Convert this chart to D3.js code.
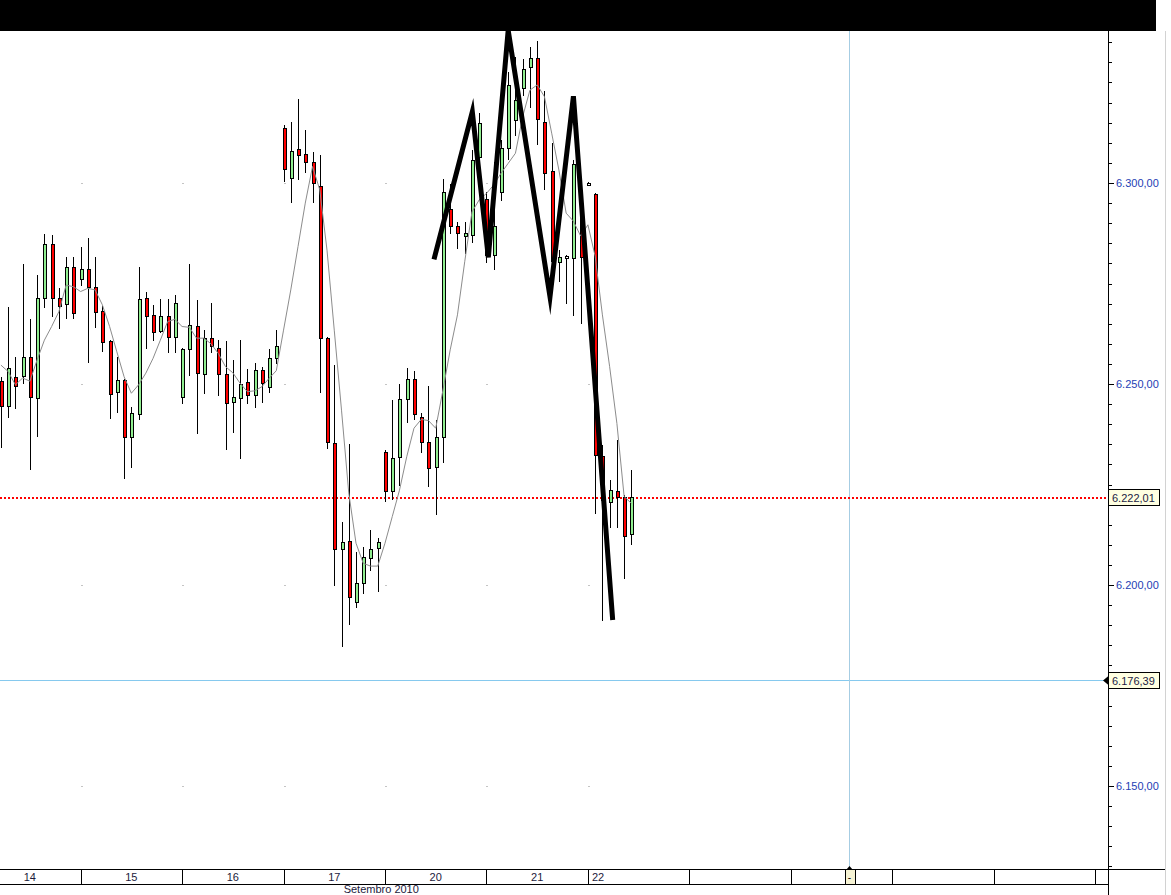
<!DOCTYPE html>
<html><head><meta charset="utf-8">
<script src="https://cdn.jsdelivr.net/npm/d3@7"></script>
<style>html,body{margin:0;padding:0;background:#fff;overflow:hidden}svg{display:block}</style>
</head><body>
<script>
// ---- DATA (30-minute candles, 14 per session) ----
const opens = [6250.7,6244.6,6251.7,6252.0,6256.6,6246.4,6271.3,6284.8,6271.3,6269.8,6279.0,6276.0,6278.5,6274.2,6268.2,6260.7,6247.9,6251.0,6236.9,6242.5,6271.3,6267.2,6263.3,6266.9,6261.8,6246.7,6258.7,6264.4,6252.4,6261.4,6258.9,6252.4,6245.5,6246.4,6250.4,6247.2,6253.5,6249.2,6256.4,6313.6,6301.2,6308.4,6307.1,6305.2,6299.3,6261.4,6235.3,6208.9,6211.0,6195.8,6200.4,6206.8,6209.1,6233.2,6223.5,6231.8,6246.2,6251.2,6241.7,6235.5,6229.3,6236.7,6293.5,6289.4,6286.9,6287.1,6306.5,6296.0,6282.1,6297.8,6308.8,6315.7,6323.7,6328.8,6331.0,6315.1,6303.0,6280.3,6281.8,6281.3,6291.8,6299.6,6297.3,6232.1,6220.7,6223.4,6222.0,6212.6];
const highs = [6251.7,6269.1,6256.8,6279.9,6266.2,6277.1,6287.2,6287.1,6273.8,6281.5,6281.5,6284.0,6286.2,6281.5,6269.4,6261.0,6256.8,6251.3,6244.4,6279.0,6273.0,6269.7,6271.1,6271.1,6272.1,6259.0,6279.9,6270.9,6263.4,6270.1,6260.9,6260.7,6256.0,6260.9,6253.7,6255.2,6254.3,6258.6,6263.4,6314.4,6315.1,6320.8,6313.2,6307.8,6307.0,6261.8,6254.7,6215.6,6235.0,6208.3,6209.4,6213.7,6211.6,6233.5,6246.0,6250.0,6253.9,6253.3,6242.7,6249.5,6241.0,6300.9,6299.8,6290.4,6290.4,6308.2,6317.3,6297.7,6305.3,6310.7,6327.6,6331.4,6330.8,6333.9,6335.3,6322.9,6309.9,6283.3,6282.0,6305.7,6293.3,6300.3,6297.5,6234.8,6226.1,6236.1,6222.3,6228.6];
const lows = [6234.3,6241.9,6244.0,6250.2,6228.8,6237.1,6269.2,6266.9,6264.0,6266.3,6266.3,6274.6,6255.5,6264.3,6258.3,6241.5,6243.1,6226.5,6229.3,6241.2,6258.9,6260.9,6263.0,6258.0,6258.0,6245.3,6252.2,6237.8,6247.7,6257.9,6247.3,6233.8,6238.1,6231.5,6245.2,6244.2,6245.6,6248.1,6255.2,6300.6,6295.3,6300.9,6302.8,6295.3,6248.1,6234.2,6200.0,6184.8,6190.2,6194.5,6198.1,6203.7,6198.6,6221.0,6221.3,6224.9,6240.6,6241.2,6233.2,6224.6,6217.6,6230.7,6287.5,6283.9,6282.7,6285.4,6303.2,6280.4,6278.5,6295.8,6305.9,6311.9,6321.9,6318.8,6309.6,6298.4,6274.6,6275.6,6270.2,6267.2,6265.1,6299.4,6217.8,6191.3,6214.5,6214.5,6201.7,6210.1];
const closes = [6244.6,6253.9,6249.6,6256.6,6246.7,6271.3,6284.8,6271.3,6269.5,6279.0,6267.6,6278.5,6274.2,6267.8,6260.5,6247.4,6251.0,6236.9,6242.9,6271.1,6267.0,6262.9,6266.9,6261.8,6270.1,6258.7,6264.7,6252.7,6261.4,6259.5,6252.4,6245.2,6246.7,6249.9,6247.3,6253.5,6250.2,6256.4,6259.5,6303.4,6308.0,6307.0,6305.2,6299.9,6261.4,6235.5,6208.9,6210.6,6196.9,6200.4,6207.0,6209.0,6210.6,6223.5,6231.5,6246.2,6251.2,6242.5,6235.5,6229.0,6236.7,6297.7,6289.4,6287.5,6287.6,6305.7,6314.9,6282.1,6289.4,6308.8,6324.5,6320.6,6328.3,6331.0,6315.8,6302.4,6280.7,6281.7,6281.3,6304.7,6281.5,6300.1,6232.3,6221.1,6223.6,6221.8,6212.3,6222.01];
const movingAvg = [6254.7,6253.1,6249.8,6251.5,6250.7,6256.0,6260.9,6264.3,6268.0,6274.6,6274.2,6273.0,6273.8,6273.4,6269.7,6264.3,6258.0,6251.8,6247.7,6249.8,6252.7,6256.4,6260.9,6265.5,6266.1,6264.3,6264.1,6261.4,6261.4,6260.0,6257.6,6254.3,6252.8,6250.2,6248.1,6248.3,6249.3,6251.4,6253.3,6263.4,6273.4,6284.2,6295.0,6304.1,6298.3,6283.3,6263.4,6243.5,6222.9,6210.4,6205.4,6204.7,6204.7,6210.4,6217.0,6223.6,6231.9,6239.0,6241.2,6240.9,6239.0,6248.5,6258.5,6267.2,6280.4,6292.8,6295.8,6297.4,6299.5,6302.4,6304.9,6307.4,6316.5,6323.1,6324.4,6321.5,6312.4,6303.2,6292.5,6290.5,6286.8,6289.6,6281.8,6267.2,6254.3,6240.2,6222.0,6220.3];
const dayLabels = ["14","15","16","17","20","21","22"];
const dayStarts = [-3,11,25,39,53,67,81];   // candle index where each session begins
const barsPerDay = 14;
const futureSessions = 5;
const priceTicks = [6150,6200,6250,6300];
const minorStep = 5;
const lastPrice = 6222.01;
const refPrice = 6176.39;
const cursorIndex = 117;
const monthLabel = "Setembro 2010";
// hand-drawn zigzag annotation: [candle index, price]
const zigzag = [[59.76,6281.0],[65.05,6317.7],[67.26,6281.5],[70.0,6338.0],[75.77,6271.7],[79.0,6321.6],[84.42,6191.3]];

// ---- LAYOUT ----
const W = 1171, H = 895;
const plotRight = 1108, plotTop = 31, stripTop = 870, stripBottom = 884;
const FONT = "'Liberation Sans', Arial, sans-serif";

const svg = d3.select("body").append("svg").attr("width", W).attr("height", H)
  .style("font-family", FONT);
svg.append("rect").attr("width", W).attr("height", H).attr("fill", "#fff");

const x = d3.scaleLinear().domain([0, 151]).range([0.9, 0.9 + 7.247*151]);
const y = d3.scaleLinear().domain([6150, 6300]).range([786, 183]);

const fmt = d3.formatLocale({decimal:",", thousands:".", grouping:[3], currency:["",""]}).format(",.2f");

const allSeps = dayStarts.slice(1).concat(d3.range(1, futureSessions+1).map(k => dayStarts[dayStarts.length-1] + k*barsPerDay));
const sepX = i => Math.round(x(i)) + 0.5;

// grid dots
const gDots = svg.append("g");
dayStarts.slice(1).forEach(s => priceTicks.forEach(p => {
  gDots.append("rect").attr("x", Math.round(x(s))).attr("y", Math.round(y(p))).attr("width", 2).attr("height", 1).attr("fill", "#c4c4c4");
}));

// reference lines
svg.append("line").attr("x1", 0).attr("x2", plotRight).attr("y1", Math.round(y(refPrice))+0.5).attr("y2", Math.round(y(refPrice))+0.5)
  .attr("stroke", "#86c9ee").attr("stroke-width", 1);
svg.append("line").attr("x1", sepX(cursorIndex)).attr("x2", sepX(cursorIndex)).attr("y1", plotTop).attr("y2", stripTop)
  .attr("stroke", "#a6cde3").attr("stroke-width", 1);
svg.append("line").attr("x1", 0).attr("x2", plotRight).attr("y1", Math.round(y(lastPrice))+1).attr("y2", Math.round(y(lastPrice))+1)
  .attr("stroke", "#ff0000").attr("stroke-width", 2).attr("stroke-dasharray", "2,2");

// candles
const gC = svg.append("g").attr("shape-rendering", "crispEdges");
opens.forEach((o, i) => {
  const c = closes[i], h = highs[i], l = lows[i];
  const xc = Math.round(x(i));
  const yh = Math.round(y(h)), yl = Math.round(y(l));
  gC.append("rect").attr("x", xc).attr("y", yh).attr("width", 1).attr("height", Math.max(1, yl - yh + 1)).attr("fill", "#000");
  let top = Math.round(y(Math.max(o, c))), bot = Math.round(y(Math.min(o, c)));
  if (bot - top < 2) bot = top + 2;
  gC.append("rect").attr("x", xc - 1).attr("y", top).attr("width", 4).attr("height", bot - top + 1).attr("fill", "#000");
  gC.append("rect").attr("x", xc).attr("y", top + 1).attr("width", 2).attr("height", bot - top - 1)
    .attr("fill", Math.abs(c - o) < 0.6 ? "#fff" : (c >= o ? "#90ee90" : "#ff0000"));
});

// moving average
svg.append("path").datum(movingAvg)
  .attr("d", d3.line().x((d, i) => x(i)).y(d => y(d)))
  .attr("fill", "none").attr("stroke", "#8c8c8c").attr("stroke-width", 1);

// zigzag annotation
svg.append("path").datum(zigzag)
  .attr("d", d3.line().x(d => x(d[0])).y(d => y(d[1])))
  .attr("fill", "none").attr("stroke", "#000").attr("stroke-width", 5)
  .attr("stroke-linejoin", "miter").attr("stroke-miterlimit", 10).attr("stroke-linecap", "butt");

// top black bar
svg.append("rect").attr("x", 0).attr("y", 0).attr("width", 1156).attr("height", plotTop).attr("fill", "#000");

// right border
svg.append("line").attr("x1", 1165.5).attr("x2", 1165.5).attr("y1", plotTop).attr("y2", H).attr("stroke", "#d2d2d2");

// right price axis
const gA = svg.append("g").attr("shape-rendering", "crispEdges");
gA.append("line").attr("x1", plotRight + 0.5).attr("x2", plotRight + 0.5).attr("y1", plotTop).attr("y2", H).attr("stroke", "#000");
const minor = d3.range(6130, 6341, minorStep).filter(p => y(p) >= plotTop && y(p) <= stripTop);
minor.forEach(p => {
  const major = priceTicks.includes(p);
  gA.append("line").attr("x1", plotRight).attr("x2", plotRight + (major ? 6 : 4))
    .attr("y1", Math.round(y(p)) + 0.5).attr("y2", Math.round(y(p)) + 0.5).attr("stroke", "#000");
});
const axisG = svg.append("g").attr("transform", `translate(${plotRight},0)`)
  .call(d3.axisRight(y).tickValues(priceTicks).tickSize(0).tickPadding(8).tickFormat(fmt));
axisG.select(".domain").remove();
axisG.selectAll("text").attr("fill", "#2440b4").style("font-size", "11px").style("font-family", FONT);

// price tags
function tag(p, arrow) {
  const yy = Math.round(y(p));
  const g = svg.append("g");
  g.append("rect").attr("x", plotRight + 0.5).attr("y", yy - 7.5).attr("width", 51).attr("height", 16)
    .attr("fill", "#ffffe1").attr("stroke", "#000").attr("shape-rendering", "crispEdges");
  if (arrow) g.append("path").attr("d", `M${plotRight-5},${yy+0.5}L${plotRight+1},${yy-4.5}L${plotRight+1},${yy+5.5}Z`).attr("fill", "#000");
  g.append("text").attr("x", plotRight + 4).attr("y", yy + 4.5).attr("font-size", 11).attr("fill", "#221a44").text(fmt(p));
}
tag(lastPrice, false);
tag(refPrice, true);

// bottom date strip
const gS = svg.append("g").attr("shape-rendering", "crispEdges");
gS.append("line").attr("x1", 0).attr("x2", 1165).attr("y1", stripTop - 0.5).attr("y2", stripTop - 0.5).attr("stroke", "#000");
gS.append("line").attr("x1", 0).attr("x2", plotRight).attr("y1", stripBottom + 0.5).attr("y2", stripBottom + 0.5).attr("stroke", "#000");
allSeps.forEach(s => {
  gS.append("line").attr("x1", sepX(s)).attr("x2", sepX(s)).attr("y1", stripTop).attr("y2", stripBottom).attr("stroke", "#000");
});
dayLabels.forEach((lab, k) => {
  const s = dayStarts[k];
  const last = k === dayLabels.length - 1;
  const cx = last ? x(s) + 4 : (x(s) + x(s + barsPerDay)) / 2;
  svg.append("text").attr("x", cx).attr("y", 881).attr("font-size", 11)
    .attr("text-anchor", last ? "start" : "middle").attr("fill", "#1c1a3c").text(lab);
});
svg.append("text").attr("x", (x(dayStarts[3]) + x(dayStarts[4])) / 2 + 47).attr("y", 893).attr("font-size", 11)
  .attr("text-anchor", "middle").attr("fill", "#1c1a3c").text(monthLabel);

// cursor marker on the date strip
const cxp = sepX(cursorIndex);
svg.append("rect").attr("x", cxp - 4.5).attr("y", stripTop - 0.5).attr("width", 10).attr("height", stripBottom - stripTop + 1)
  .attr("fill", "#f6f3d4").attr("stroke", "#000").attr("shape-rendering", "crispEdges");
svg.append("path").attr("d", `M${cxp-3.5},${stripTop}L${cxp},${stripTop-4}L${cxp+3.5},${stripTop}Z`).attr("fill", "#000");
svg.append("text").attr("x", cxp).attr("y", 881).attr("font-size", 10).attr("text-anchor", "middle").attr("fill", "#000").text("-");
</script>
</body></html>
